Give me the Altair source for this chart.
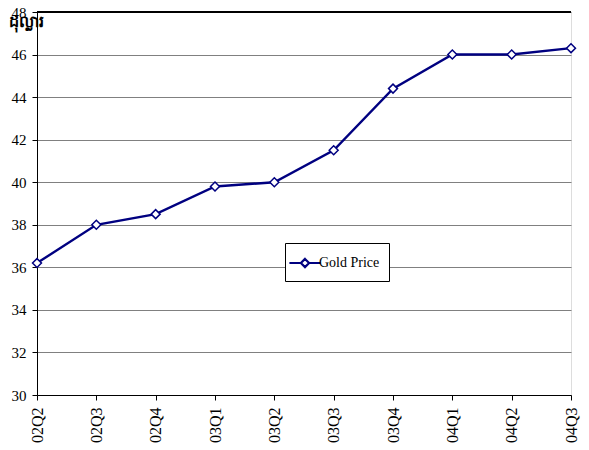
import altair as alt
import pandas as pd

quarters = ["02Q2", "02Q3", "02Q4", "03Q1", "03Q2", "03Q3", "03Q4", "04Q1", "04Q2", "04Q3"]
prices = [36.2, 38.0, 38.5, 39.8, 40.0, 41.5, 44.4, 46.0, 46.0, 46.3]
series_name = "Gold Price"
y_title = "ដុល្លារ"

df = pd.DataFrame({"quarter": quarters, "price": prices, "series": [series_name] * len(quarters)})

legend_symbol = "M-1.6,0L-0.42,0M0.42,0L1.6,0M0,-0.42L0.42,0L0,0.42L-0.42,0Z"
SERIF = "Liberation Serif"

x_enc = alt.X("quarter:N", sort=quarters,
              scale=alt.Scale(type="point", padding=0),
              axis=alt.Axis(title=None, labelAngle=-90, labelFont=SERIF, labelFontSize=16,
                            labelColor="black", domainColor="black", tickColor="black", tickSize=5,
                            labelPadding=7, grid=False, labelBaseline="middle"))
y_enc = alt.Y("price:Q", scale=alt.Scale(domain=[30, 48], nice=False, zero=False),
              axis=alt.Axis(values=list(range(30, 49, 2)), title=y_title, titleAngle=0,
                            titleX=-29, titleY=14, titleAlign="left", titleBaseline="alphabetic",
                            titleFontSize=16, titleFontWeight="bold", titleFont="Noto Sans",
                            labelFont=SERIF, labelFontSize=15, labelColor="black",
                            domainColor="black", tickColor="black", tickSize=5, labelPadding=6,
                            gridColor="#808080", gridWidth=1))

line = alt.Chart(df).mark_line(strokeWidth=2.4).encode(
    x=x_enc,
    y=y_enc,
    color=alt.Color("series:N", scale=alt.Scale(range=["#000080"]),
                    legend=alt.Legend(title=None, orient="none", legendX=248, legendY=231,
                                      symbolType=legend_symbol, symbolSize=380,
                                      symbolStrokeWidth=2.2,
                                      labelFont=SERIF, labelFontSize=14,
                                      labelColor="black", strokeColor="black", fillColor="white",
                                      padding=9, labelOffset=3)),
)

points = alt.Chart(df).mark_point(shape="diamond", filled=True, fill="white", stroke="#000080",
                                  strokeWidth=1.5, size=80, opacity=1).encode(
    x=alt.X("quarter:N", sort=quarters), y=alt.Y("price:Q")
)

top_rule = alt.Chart(df).mark_rule(color="black", strokeWidth=1).encode(
    x=alt.value(0), x2=alt.value(534), y=alt.value(0)
)

chart = alt.layer(line, points, top_rule).properties(
    width=534, height=383,
    autosize=alt.AutoSizeParams(type="none"),
    padding={"left": 29, "top": 4, "right": 10, "bottom": 50},
).configure_view(stroke="#808080", strokeWidth=1).configure(background="white").configure_axis(
    labelFont=SERIF
)

chart.save("out.html", embed_options={"renderer": "svg", "actions": False})
